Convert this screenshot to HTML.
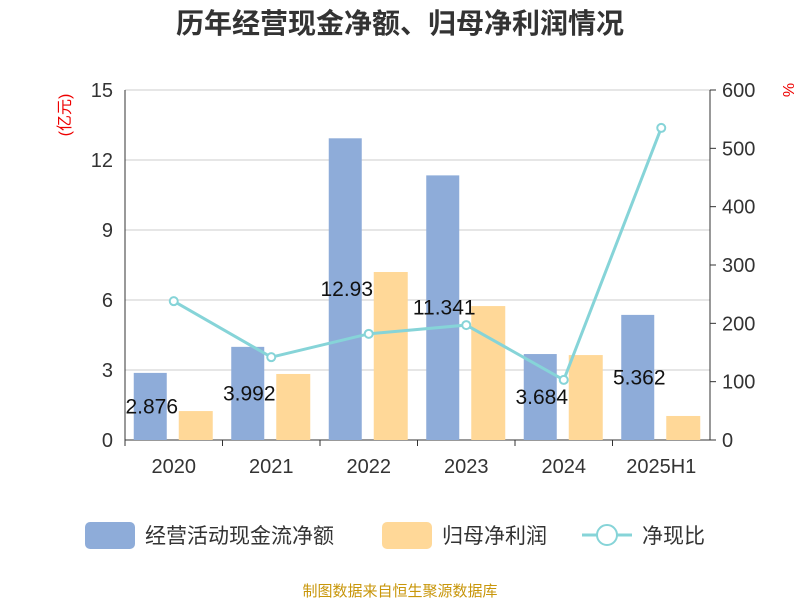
<!DOCTYPE html>
<html><head><meta charset="utf-8"><style>
body{margin:0;background:#fff;font-family:"Liberation Sans","Noto Sans CJK SC",sans-serif}
</style></head><body>
<svg id="c" width="800" height="600" xmlns="http://www.w3.org/2000/svg" style="font-family:'Liberation Sans','Noto Sans CJK SC',sans-serif"></svg>
<script>
const categories=["2020","2021","2022","2023","2024","2025H1"];
const cashFlow=[2.876,3.992,12.93,11.341,3.684,5.362];
const netProfit=[1.24,2.83,7.2,5.74,3.64,1.03];
const ratio=[238,142,182,197,103,535];
const leftTicks=[0,3,6,9,12,15];
const rightTicks=[0,100,200,300,400,500,600];
const NS="http://www.w3.org/2000/svg";
const svg=document.getElementById('c');
const X0=125,X1=710,Y0=440,Y1=90;
const yL=v=>Y0-(v/15)*(Y0-Y1);
const yR=v=>Y0-(v/600)*(Y0-Y1);
const bw=(X1-X0)/categories.length;
const xc=i=>X0+bw*(i+0.5);
function el(t,a,txt){const e=document.createElementNS(NS,t);for(const k in a)e.setAttribute(k,a[k]);if(txt!==undefined)e.textContent=txt;svg.appendChild(e);return e;}
let e;
e=el('text',{x:400,y:33,'text-anchor':'middle','font-size':28,'font-weight':'bold',fill:'#333'},'历年经营现金净额、归母净利润情况');


leftTicks.forEach(t=>{
 e=el('line',{x1:X0,x2:X1,y1:yL(t),y2:yL(t),stroke:'#ccc','stroke-width':1});
 
 
 e=el('text',{x:X0-12,y:yL(t)+7,'text-anchor':'end','font-size':20,fill:'#333'},t);
 
 
});
rightTicks.forEach(t=>{
 e=el('text',{x:X1+12,y:yR(t)+7,'text-anchor':'start','font-size':20,fill:'#333'},t);
 
 
 e=el('line',{x1:X1,x2:X1+6,y1:yR(t),y2:yR(t),stroke:'#333'});
 
 
});
e=el('line',{x1:X0,x2:X0,y1:Y1,y2:Y0,stroke:'#333'});


e=el('line',{x1:X1,x2:X1,y1:Y1,y2:Y0,stroke:'#333'});


e=el('line',{x1:X0,x2:X1,y1:Y0,y2:Y0,stroke:'#333'});


e=el('text',{x:70,y:115,'font-size':16,fill:'#e00','text-anchor':'middle',transform:'rotate(-90 70 115)'},'(亿元)');


e=el('text',{x:783,y:90,'font-size':16,fill:'#e00','text-anchor':'middle',transform:'rotate(90 783 90)'},'%');


categories.forEach((c,i)=>{
 e=el('line',{x1:X0+bw*i,x2:X0+bw*i,y1:Y0,y2:Y0+6,stroke:'#333'});
 
 
 e=el('text',{x:xc(i),y:473,'text-anchor':'middle','font-size':20,fill:'#333'},c);
 
 
 e=el('rect',{x:xc(i)-40,y:yL(cashFlow[i]),width:33,height:Y0-yL(cashFlow[i]),fill:'#8eacd9'});
 
 
 e=el('rect',{x:xc(i)+5,y:yL(netProfit[i]),width:34,height:Y0-yL(netProfit[i]),fill:'#ffd898'});
 
 
});
e=el('polyline',{points:ratio.map((v,i)=>xc(i)+','+yR(v)).join(' '),fill:'none',stroke:'#86d4d8','stroke-width':3});


ratio.forEach((v,i)=>{
 e=el('circle',{cx:xc(i),cy:yR(v),r:4,fill:'#fff',stroke:'#86d4d8','stroke-width':2});
 
 
});
cashFlow.forEach((v,i)=>{
 e=el('text',{x:xc(i)-22,y:(yL(v)+Y0)/2+7,'text-anchor':'middle','font-size':21,fill:'#111'},v);
 
 
});
e=el('rect',{x:85,y:522,width:50,height:27,rx:5,fill:'#8eacd9'});


e=el('text',{x:145,y:543,'font-size':21,fill:'#333'},'经营活动现金流净额');


e=el('rect',{x:382,y:522,width:50,height:27,rx:5,fill:'#ffd898'});


e=el('text',{x:442,y:543,'font-size':21,fill:'#333'},'归母净利润');


e=el('line',{x1:582,x2:632,y1:535,y2:535,stroke:'#86d4d8','stroke-width':3});


e=el('circle',{cx:607,cy:535,r:10,fill:'#fff',stroke:'#86d4d8','stroke-width':2});


e=el('text',{x:642,y:543,'font-size':21,fill:'#333'},'净现比');


e=el('text',{x:400,y:596,'text-anchor':'middle','font-size':15,fill:'#c8960a'},'制图数据来自恒生聚源数据库');


</script>
</body></html>
